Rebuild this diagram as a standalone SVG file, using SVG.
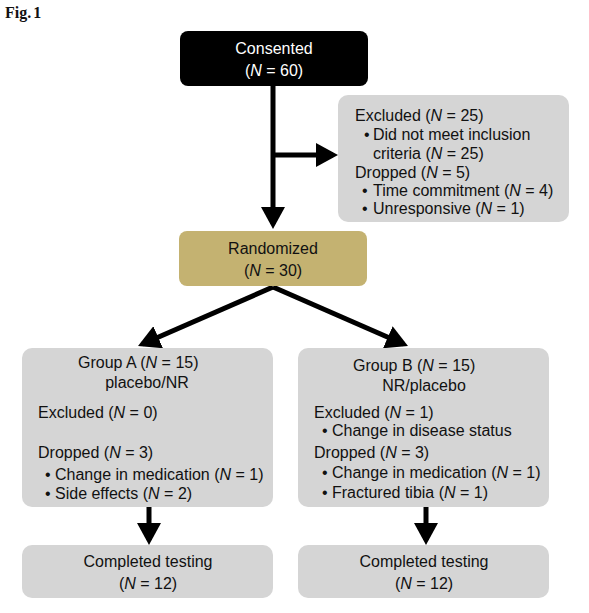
<svg xmlns="http://www.w3.org/2000/svg" width="589" height="613" viewBox="0 0 589 613">
<style>
  .t{font-family:"Liberation Sans",Arial,sans-serif;font-size:16px;fill:#111}
  .w{fill:#fff}
  .c{text-anchor:middle}
  .grey{fill:#d5d5d5}
  .gold{fill:#c4b271}
  .conn{stroke:#000;stroke-width:5;fill:none}
  .fig{font-family:"Liberation Serif","Times New Roman",serif;font-size:16px;font-weight:bold;fill:#111;word-spacing:-2px}
</style>
<defs>
  <marker id="ah" markerUnits="userSpaceOnUse" markerWidth="22" markerHeight="24" viewBox="0 0 22 24" refX="17" refY="12" orient="auto">
    <path d="M0,0 L22,12 L0,24 z" fill="#000"/>
  </marker>
</defs>
<rect width="589" height="613" fill="#fff"/>
<text class="fig" x="5" y="18">Fig. 1</text>

<g id="connectors">
  <path class="conn" d="M273,85 L273,224" marker-end="url(#ah)"/>
  <path class="conn" d="M273,155 L333,155" marker-end="url(#ah)"/>
  <path class="conn" d="M273,287 L142.6,344" marker-end="url(#ah)"/>
  <path class="conn" d="M273,287 L403.4,344" marker-end="url(#ah)"/>
  <path class="conn" d="M149,507 L149,540" marker-end="url(#ah)"/>
  <path class="conn" d="M426,507 L426,540" marker-end="url(#ah)"/>
</g>

<g id="consented">
  <rect x="180" y="31" width="188" height="55" rx="8" fill="#000"/>
  <text class="t w c" x="274" y="54">Consented</text>
  <text class="t w c" x="274" y="76">(<tspan font-style="italic">N</tspan> = 60)</text>
</g>

<g id="excluded">
  <rect class="grey" x="338" y="95" width="231" height="127" rx="10"/>
  <text class="t" x="355" y="121">Excluded (<tspan font-style="italic">N</tspan> = 25)</text>
  <text class="t" x="364" y="140">•</text>
  <text class="t" x="373" y="140">Did not meet inclusion</text>
  <text class="t" x="373" y="159">criteria (<tspan font-style="italic">N</tspan> = 25)</text>
  <text class="t" x="355" y="178">Dropped (<tspan font-style="italic">N</tspan> = 5)</text>
  <text class="t" x="362" y="196">•</text>
  <text class="t" x="373" y="196">Time commitment (<tspan font-style="italic">N</tspan> = 4)</text>
  <text class="t" x="362" y="214">•</text>
  <text class="t" x="373" y="214">Unresponsive (<tspan font-style="italic">N</tspan> = 1)</text>
</g>

<g id="randomized">
  <rect class="gold" x="179" y="231" width="188" height="55" rx="8"/>
  <text class="t c" x="273" y="254">Randomized</text>
  <text class="t c" x="273" y="276">(<tspan font-style="italic">N</tspan> = 30)</text>
</g>

<g id="groupA">
  <rect class="grey" x="22" y="348" width="251" height="159" rx="10"/>
  <text class="t" x="78" y="368">Group A (<tspan font-style="italic">N</tspan> = 15)</text>
  <text class="t c" x="147" y="388">placebo/NR</text>
  <text class="t" x="38" y="418">Excluded (<tspan font-style="italic">N</tspan> = 0)</text>
  <text class="t" x="38" y="458">Dropped (<tspan font-style="italic">N</tspan> = 3)</text>
  <text class="t" x="45" y="480">•</text>
  <text class="t" x="55" y="480">Change in medication (<tspan font-style="italic">N</tspan> = 1)</text>
  <text class="t" x="45" y="499">•</text>
  <text class="t" x="55" y="499">Side effects (<tspan font-style="italic">N</tspan> = 2)</text>
</g>

<g id="groupB">
  <rect class="grey" x="298" y="348" width="251" height="159" rx="10"/>
  <text class="t" x="353" y="371">Group B (<tspan font-style="italic">N</tspan> = 15)</text>
  <text class="t c" x="424" y="391">NR/placebo</text>
  <text class="t" x="314" y="418">Excluded (<tspan font-style="italic">N</tspan> = 1)</text>
  <text class="t" x="322" y="436">•</text>
  <text class="t" x="332" y="436">Change in disease status</text>
  <text class="t" x="314" y="458">Dropped (<tspan font-style="italic">N</tspan> = 3)</text>
  <text class="t" x="322" y="478">•</text>
  <text class="t" x="332" y="478">Change in medication (<tspan font-style="italic">N</tspan> = 1)</text>
  <text class="t" x="322" y="498">•</text>
  <text class="t" x="332" y="498">Fractured tibia (<tspan font-style="italic">N</tspan> = 1)</text>
</g>

<g id="completedA">
  <rect class="grey" x="22" y="545" width="251" height="53" rx="10"/>
  <text class="t c" x="148" y="567">Completed testing</text>
  <text class="t c" x="148" y="589">(<tspan font-style="italic">N</tspan> = 12)</text>
</g>

<g id="completedB">
  <rect class="grey" x="298" y="545" width="251" height="53" rx="10"/>
  <text class="t c" x="424" y="567">Completed testing</text>
  <text class="t c" x="424" y="589">(<tspan font-style="italic">N</tspan> = 12)</text>
</g>
</svg>
